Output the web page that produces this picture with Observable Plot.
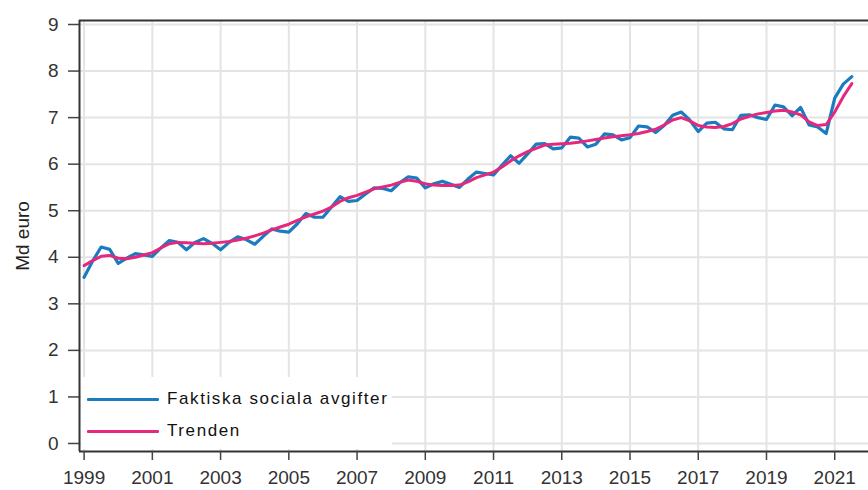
<!DOCTYPE html>
<html>
<head>
<meta charset="utf-8">
<script src="https://cdn.jsdelivr.net/npm/d3@7"></script>
<script src="https://cdn.jsdelivr.net/npm/@observablehq/plot@0.6"></script>
<style>
  html, body { margin: 0; padding: 0; background: #fff; }
  #wrap { position: relative; width: 868px; height: 490px; overflow: hidden; }
  .legend { position: absolute; left: 81px; top: 377px; width: 311px; height: 72px; background: #fff;
            font-family: "Liberation Sans", Arial, sans-serif; font-size: 17px; letter-spacing: 1.6px; color: #111; }
  .legend .row { position: absolute; left: 6px; height: 20px; display: flex; align-items: center; white-space: nowrap; }
  .legend .sw { width: 72px; height: 3px; margin-right: 8px; border-radius: 1px; }
</style>
</head>
<body>
<div id="wrap"></div>
<script>
const startYear = 1999; // first quarter: 1999 Q1, quarterly observations
const faktiska = [
  3.57, 3.92, 4.22, 4.17, 3.87, 3.98, 4.08, 4.05, 4.02, 4.20, 4.36, 4.32,
  4.16, 4.32, 4.40, 4.30, 4.16, 4.32, 4.44, 4.38, 4.28, 4.45, 4.61, 4.56,
  4.54, 4.72, 4.94, 4.86, 4.86, 5.08, 5.30, 5.20, 5.22, 5.36, 5.49, 5.48,
  5.43, 5.60, 5.73, 5.70, 5.49, 5.58, 5.63, 5.57, 5.50, 5.68, 5.83, 5.80,
  5.77, 5.98, 6.18, 6.02, 6.22, 6.43, 6.44, 6.33, 6.35, 6.58, 6.56, 6.37,
  6.43, 6.65, 6.63, 6.52, 6.57, 6.82, 6.80, 6.68, 6.83, 7.05, 7.12, 6.95,
  6.70, 6.88, 6.90, 6.76, 6.74, 7.05, 7.06, 7.00, 6.96, 7.27, 7.23, 7.04,
  7.22, 6.84, 6.80, 6.66, 7.42, 7.72, 7.88
];
const trenden = [
  3.82, 3.93, 4.02, 4.04, 3.98, 3.97, 4.00, 4.05, 4.10, 4.20, 4.29, 4.32,
  4.31, 4.30, 4.29, 4.30, 4.32, 4.34, 4.37, 4.41, 4.46, 4.52, 4.59, 4.65,
  4.71, 4.79, 4.87, 4.93, 4.99, 5.08, 5.20, 5.28, 5.33, 5.40, 5.47, 5.51,
  5.55, 5.61, 5.66, 5.63, 5.58, 5.55, 5.54, 5.54, 5.55, 5.62, 5.71, 5.77,
  5.83, 5.94, 6.07, 6.18, 6.27, 6.34, 6.41, 6.43, 6.44, 6.45, 6.47, 6.50,
  6.53, 6.56, 6.59, 6.61, 6.63, 6.66, 6.70, 6.75, 6.84, 6.95, 7.00, 6.93,
  6.83, 6.80, 6.79, 6.81, 6.87, 6.97, 7.03, 7.08, 7.11, 7.14, 7.16, 7.12,
  7.06, 6.91, 6.83, 6.85, 7.12, 7.45, 7.73
];
const seriesNames = ["Faktiska sociala avgifter", "Trenden"];
const seriesColors = ["#1a7bbf", "#e6287c"];
const xTicks = [1999, 2001, 2003, 2005, 2007, 2009, 2011, 2013, 2015, 2017, 2019, 2021];
const yTicks = [0, 1, 2, 3, 4, 5, 6, 7, 8, 9];
const yLabel = "Md euro";
const xDomain = [1998.865, 2021.99];
const yDomain = [-0.172, 9.086];

const rowsF = faktiska.map((v, i) => ({t: startYear + i / 4, v, s: seriesNames[0]}));
const rowsT = trenden.map((v, i) => ({t: startYear + i / 4, v, s: seriesNames[1]}));

const chart = Plot.plot({
  width: 868, height: 490,
  marginLeft: 79, marginRight: 0, marginTop: 20, marginBottom: 39,
  style: {fontFamily: "'Liberation Sans', Arial, sans-serif", fontSize: "19px", color: "#333", background: "#fff"},
  x: {domain: xDomain},
  y: {domain: yDomain},
  marks: [
    Plot.gridX(xTicks, {stroke: "#e4e4e4", strokeOpacity: 1, strokeWidth: 2}),
    Plot.gridY(yTicks, {stroke: "#e4e4e4", strokeOpacity: 1, strokeWidth: 2}),
    Plot.line(rowsF, {x: "t", y: "v", stroke: seriesColors[0], strokeWidth: 3.2, curve: "linear"}),
    Plot.line(rowsT, {x: "t", y: "v", stroke: seriesColors[1], strokeWidth: 3, curve: "linear"}),
    Plot.ruleY([yDomain[0], yDomain[1]], {stroke: "#333", strokeWidth: 2}),
    Plot.ruleX([xDomain[0]], {stroke: "#333", strokeWidth: 2}),
    Plot.axisX(xTicks, {tickSize: 9, tickPadding: 10, tickFormat: d => String(d), label: null, stroke: "#444", strokeWidth: 1.5, fill: "#333"}),
    Plot.axisY(yTicks, {tickSize: 11, tickPadding: 10, label: null, stroke: "#444", strokeWidth: 1.5, fill: "#333"}),
    Plot.text([yLabel], {frameAnchor: "left", dx: -57, rotate: -90, textAnchor: "middle", lineAnchor: "middle", fill: "#222", fontSize: 19})
  ]
});

const wrap = document.getElementById("wrap");
wrap.appendChild(chart);

const legend = document.createElement("div");
legend.className = "legend";
seriesNames.forEach((name, k) => {
  const row = document.createElement("div");
  row.className = "row";
  row.style.top = (12 + k * 32) + "px";
  const sw = document.createElement("div");
  sw.className = "sw";
  sw.style.background = seriesColors[k];
  const tx = document.createElement("span");
  tx.textContent = name;
  row.appendChild(sw);
  row.appendChild(tx);
  legend.appendChild(row);
});
wrap.appendChild(legend);
</script>
</body>
</html>
